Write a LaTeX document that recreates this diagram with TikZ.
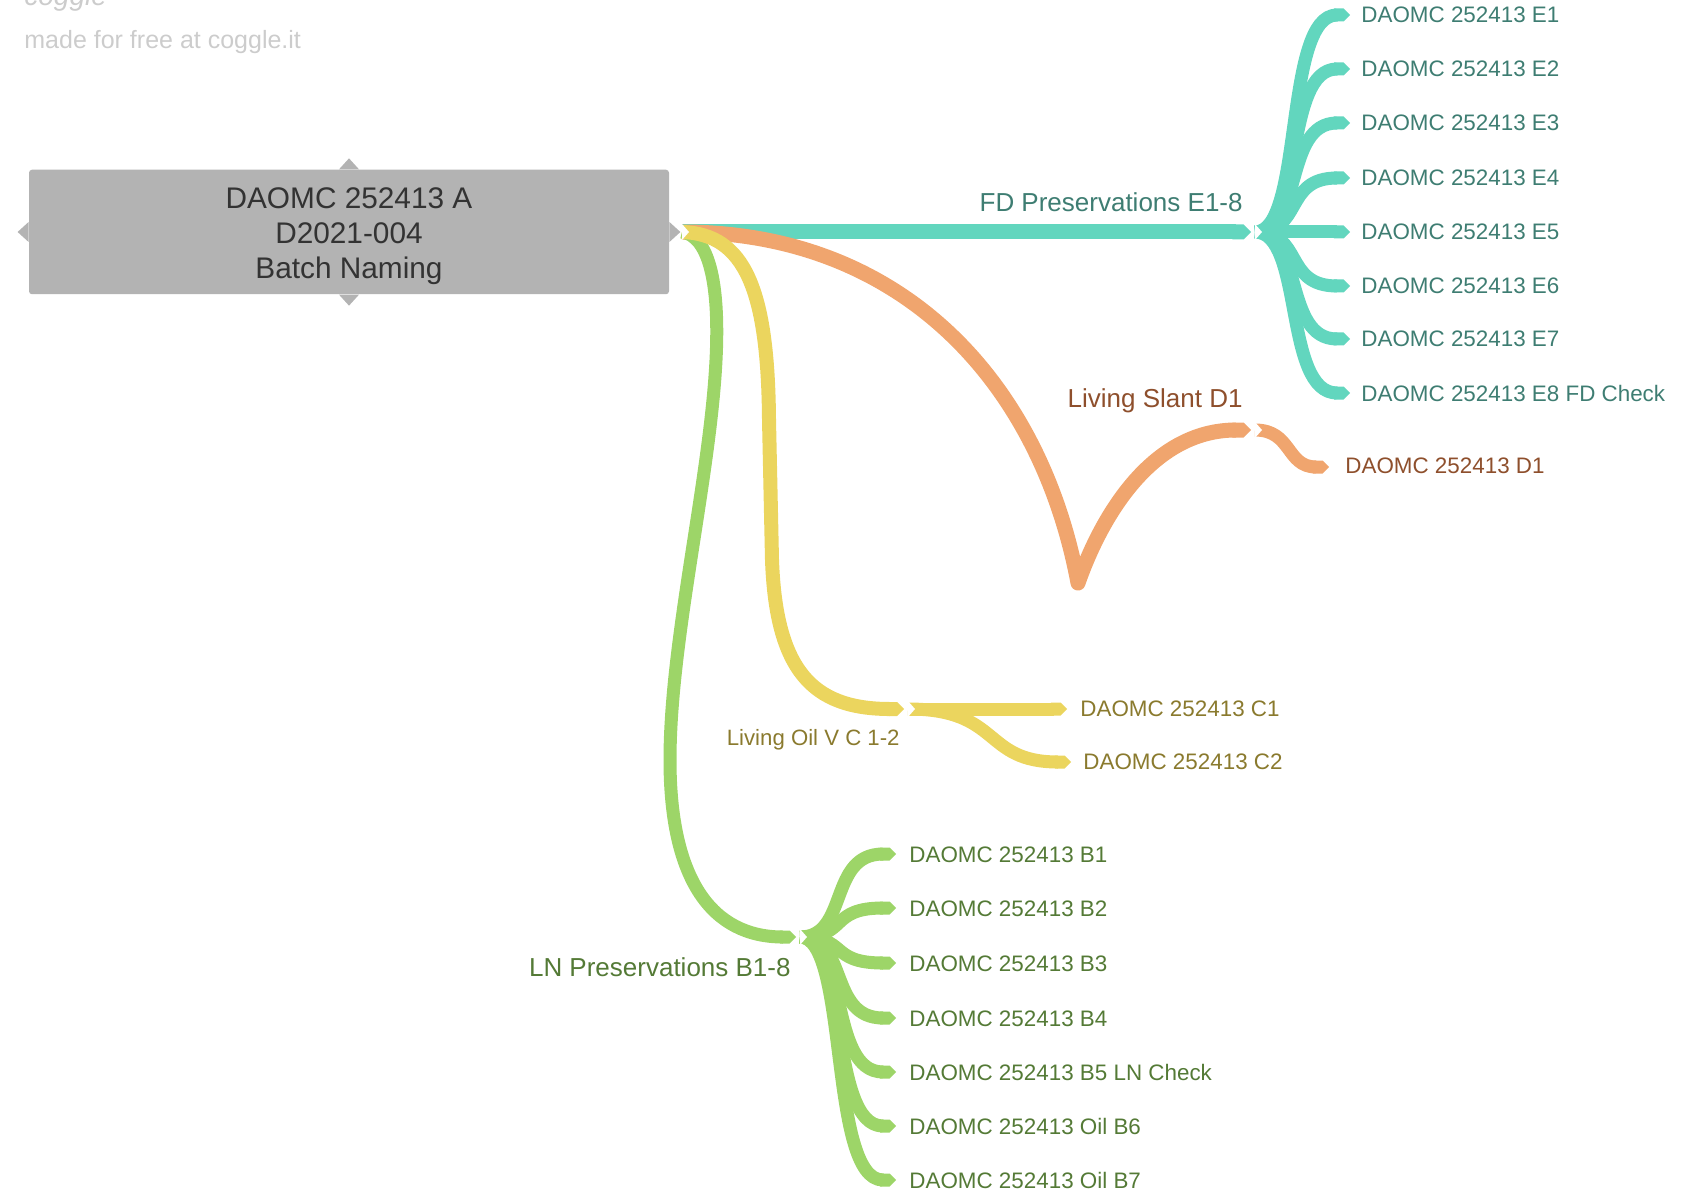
\documentclass[tikz,border=0pt]{standalone}
\usepackage{fontspec}
\setmainfont{Liberation Sans}
\usetikzlibrary{arrows.meta,calc}
\definecolor{teal1}{HTML}{62D6BE}
\definecolor{tealtxt}{HTML}{3E7D72}
\definecolor{orange1}{HTML}{F0A56E}
\definecolor{orangetxt}{HTML}{8E4F2C}
\definecolor{yellow1}{HTML}{EBD55E}
\definecolor{yellowtxt}{HTML}{8A7A2E}
\definecolor{green1}{HTML}{9DD568}
\definecolor{greentxt}{HTML}{547A36}
\definecolor{rootfill}{HTML}{B3B3B3}
\definecolor{roottxt}{HTML}{333333}
\definecolor{wmgray}{HTML}{CCCCCC}
\begin{document}
\begin{tikzpicture}[x=0.5pt,y=-0.5pt,
  branch/.style={line width=7.5pt, line cap=butt, line join=round, -{Triangle Cap[]}},
  leaf/.style={line width=6.5pt, line cap=butt, line join=round, -{Triangle Cap[]}},
  leaflbl/.style={anchor=base west, inner sep=0pt, font=\fontsize{11.2pt}{13pt}\selectfont},
  mainlbl/.style={anchor=base east, inner sep=0pt, font=\fontsize{13pt}{15pt}\selectfont},
  notch/.style={fill=white, draw=none}
]
\useasboundingbox (0,0) rectangle (1685,1192);

% watermark
\node[anchor=base west, inner sep=0pt, text=wmgray, font=\itshape\fontsize{14pt}{14pt}\selectfont] (logo) at (24,6) {coggle};
\node[anchor=base west, inner sep=0pt, text=wmgray, font=\fontsize{12.5pt}{14pt}\selectfont] (wm) at (24,49) {made for free at coggle.it};

% root
\node[fill=rootfill, rounded corners=1.5pt, minimum width=320pt, minimum height=62.25pt, inner sep=0pt] (root) at (349,232) {};
\node[align=center, text=roottxt, inner sep=0pt, font=\fontsize{14.9pt}{17.5pt}\selectfont] (rootText) at (349,236)
      {DAOMC 252413 A\\D2021-004\\Batch Naming};
\fill[rootfill] ($(root.north)+(-10,0)$) -- ($(root.north)+(0,-11)$) -- ($(root.north)+(10,0)$) -- cycle;
\fill[rootfill] ($(root.south)+(-10,0)$) -- ($(root.south)+(0,11)$) -- ($(root.south)+(10,0)$) -- cycle;
\fill[rootfill] ($(root.west)+(0,-10)$) -- ($(root.west)+(-11,0)$) -- ($(root.west)+(0,10)$) -- cycle;
\fill[rootfill] ($(root.east)+(0,-10)$) -- ($(root.east)+(11,0)$) -- ($(root.east)+(0,10)$) -- cycle;

\coordinate (rootR) at (682,232);
\coordinate (fdEnd) at (1251,232);
\coordinate (oEnd) at (1251,430);
\coordinate (yEnd) at (904,709);
\coordinate (gEnd) at (796,937);

% main branches
\draw[branch, teal1] (rootR) -- (fdEnd);
\draw[branch, orange1] (rootR) .. controls (900,232) and (1040,380) .. (1078,583)
      .. controls (1100,520) and (1150,430) .. (oEnd);
\draw[branch, green1, line width=6.5pt] (rootR) .. controls (708,236) and (720,280) .. (716,360)
      .. controls (710,480) and (670,640) .. (670,760)
      .. controls (670,880) and (712,937) .. (gEnd);
\draw[branch, yellow1, line width=7pt] (rootR) .. controls (745,234) and (768,290) .. (769,420)
      -- (772,560) .. controls (776,670) and (812,709) .. (yEnd);
\fill[notch] ($(rootR)+(0,-8)$) -- ($(rootR)+(7,0)$) -- ($(rootR)+(0,8)$) -- cycle;

% branch labels
\node[mainlbl, text=tealtxt] (lFD) at (1243,212) {FD Preservations E1-8};
\node[mainlbl, text=orangetxt] (lLS) at (1243,408) {Living Slant D1};
\node[mainlbl, text=yellowtxt, font=\fontsize{11.1pt}{13pt}\selectfont] (lLO) at (900,745) {Living Oil V C 1-2};
\node[mainlbl, text=greentxt] (lLN) at (791,976) {LN Preservations B1-8};

% E leaves
\coordinate (hE) at (1255,232);
\coordinate (hEa) at (1304,232);
\coordinate (hEb) at (1283,232);
\foreach \i/\yy/\t in {1/15/E1, 2/69/E2, 3/123/E3, 4/178/E4, 5/232/E5, 6/286/E6, 7/339/E7, 8/393/E8 FD Check} {
  \coordinate (tE\i) at (1350,\yy);
  \draw[leaf, teal1] (hE) .. controls (hEa) and (hEb |- tE\i) .. (tE\i);
  \node[leaflbl, text=tealtxt] (lE\i) at ($(tE\i)+(11,8)$) {DAOMC 252413 \t};
}
\fill[notch] ($(hE)+(0,-8)$) -- ($(hE)+(7,0)$) -- ($(hE)+(0,8)$) -- cycle;

% D leaf
\coordinate (hD) at (1255,430);
\coordinate (tD) at (1329,467);
\draw[leaf, orange1] (hD) .. controls (1292,430) and (1286,467) .. (tD);
\fill[notch] ($(hD)+(0,-8)$) -- ($(hD)+(7,0)$) -- ($(hD)+(0,8)$) -- cycle;
\node[leaflbl, text=orangetxt] (lD1) at (1345,473) {DAOMC 252413 D1};

% C leaves
\coordinate (hC) at (908,709);
\coordinate (tC1) at (1067,709);
\coordinate (tC2) at (1071,762);
\draw[leaf, yellow1] (hC) -- (tC1);
\draw[leaf, yellow1] (hC) .. controls (1002,709) and (982,762) .. (tC2);
\fill[notch] ($(hC)+(0,-8)$) -- ($(hC)+(7,0)$) -- ($(hC)+(0,8)$) -- cycle;
\node[leaflbl, text=yellowtxt] (lC1) at (1080,716) {DAOMC 252413 C1};
\node[leaflbl, text=yellowtxt] (lC2) at (1083,769) {DAOMC 252413 C2};

% B leaves
\coordinate (hB) at (800,937);
\coordinate (hBa) at (849,937);
\coordinate (hBb) at (828,937);
\foreach \i/\yy/\t in {1/854/B1, 2/908/B2, 3/963/B3, 4/1018/B4, 5/1072/B5 LN Check, 6/1126/Oil B6, 7/1180/Oil B7} {
  \coordinate (tB\i) at (896,\yy);
  \draw[leaf, green1] (hB) .. controls (hBa) and (hBb |- tB\i) .. (tB\i);
  \node[leaflbl, text=greentxt] (lB\i) at ($(tB\i)+(13,8)$) {DAOMC 252413 \t};
}
\fill[notch] ($(hB)+(0,-8)$) -- ($(hB)+(7,0)$) -- ($(hB)+(0,8)$) -- cycle;
\end{tikzpicture}
\end{document}
